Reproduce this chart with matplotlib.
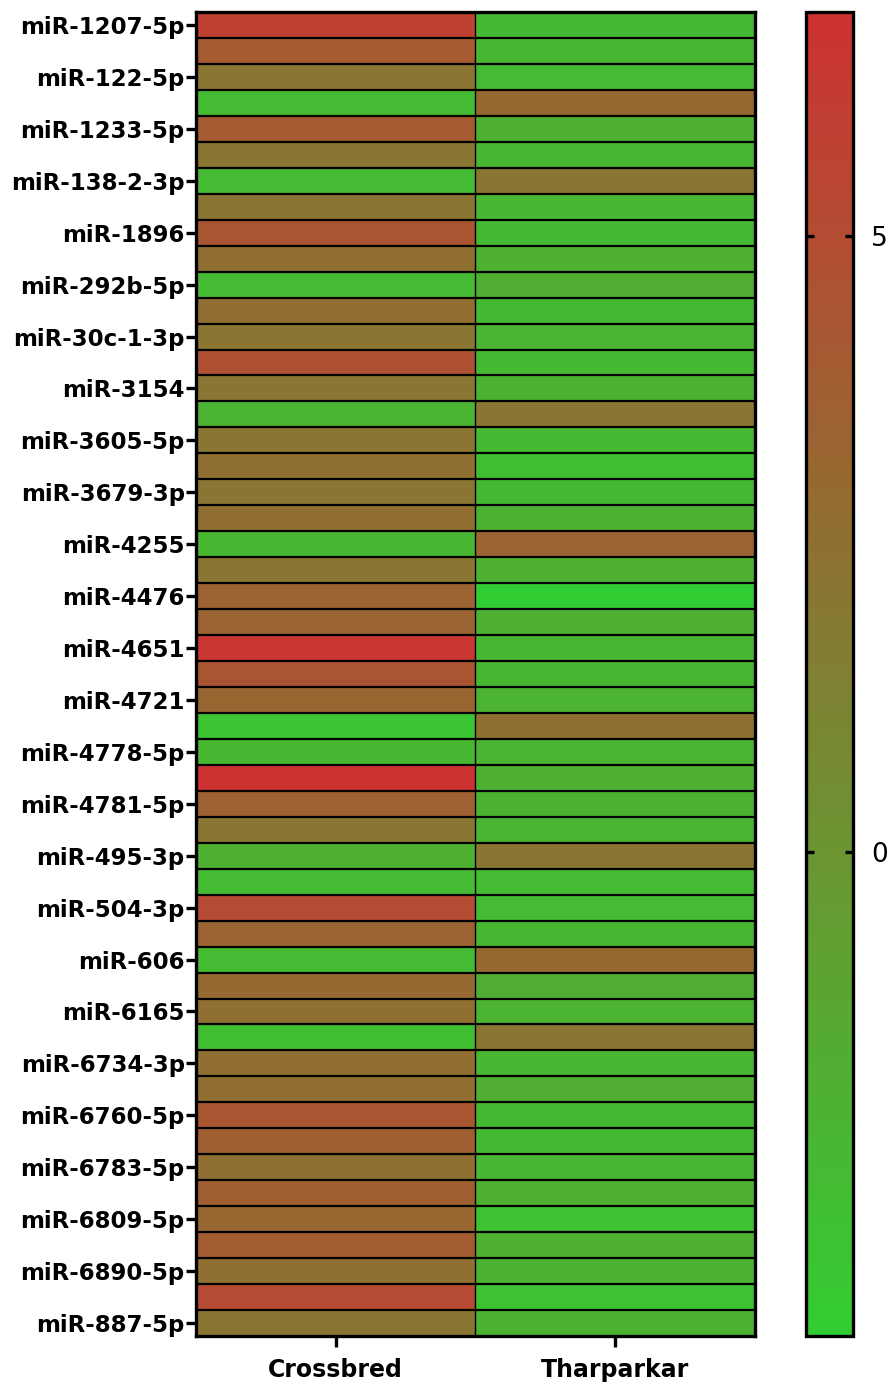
import numpy as np
import matplotlib
matplotlib.use("Agg")
import matplotlib.pyplot as plt
from matplotlib.colors import LinearSegmentedColormap

# row labels (every other row is labelled)
mirna_labels = ["miR-1207-5p", "miR-122-5p", "miR-1233-5p", "miR-138-2-3p", "miR-1896",
                "miR-292b-5p", "miR-30c-1-3p", "miR-3154", "miR-3605-5p", "miR-3679-3p",
                "miR-4255", "miR-4476", "miR-4651", "miR-4721", "miR-4778-5p",
                "miR-4781-5p", "miR-495-3p", "miR-504-3p", "miR-606", "miR-6165",
                "miR-6734-3p", "miR-6760-5p", "miR-6783-5p", "miR-6809-5p", "miR-6890-5p",
                "miR-887-5p"]
groups = ["Crossbred", "Tharparkar"]

crossbred = [5.78, 4.05, 2.17, -2.68, 4.05, 2.17, -2.68, 2.20, 4.39, 2.66,
             -2.68, 2.66, 2.17, 4.74, 2.17, -2.20, 2.17, 2.52, 2.17, 2.66,
             -2.40, 2.17, 3.35, 3.35, 6.47, 4.39, 3.21, -3.24, -2.40, 6.82,
             3.56, 2.17, -1.99, -2.68, 5.09, 3.35, -2.68, 3.00, 2.52, -2.89,
             2.66, 2.66, 4.39, 3.70, 2.52, 3.70, 3.14, 3.91, 2.52, 5.09,
             2.17]
tharparkar = [-2.54, -2.40, -2.68, 3.00, -1.99, -2.40, 2.17, -2.40, -2.54, -1.99,
              -1.85, -2.54, -2.20, -2.54, -2.13, 2.17, -2.54, -2.89, -2.54, -2.13,
              3.35, -1.99, -3.93, -1.99, -2.40, -2.40, -2.20, 2.52, -2.20, -1.99,
              -2.13, -2.27, 2.17, -2.68, -2.68, -2.40, 3.00, -1.85, -2.20, 2.17,
              -2.40, -1.85, -2.54, -2.54, -2.40, -1.99, -3.10, -1.99, -2.13, -3.10,
              -2.13]

data = np.column_stack([crossbred, tharparkar])
n_rows = data.shape[0]

cmap = LinearSegmentedColormap.from_list("gr", [(50/255, 205/255, 50/255), (205/255, 50/255, 50/255)])

fig = plt.figure(figsize=(8.9, 13.83), dpi=100)
ax = fig.add_axes([0.2202, 0.0340, 0.6281, 0.9573])
cax = fig.add_axes([0.9056, 0.0340, 0.0528, 0.9573])

mesh = ax.pcolormesh(np.arange(3), np.arange(n_rows + 1), data, cmap=cmap,
                     vmin=data.min(), vmax=data.max())
ax.set_xlim(0, 2)
ax.set_ylim(n_rows, 0)

# cell borders
ax.hlines(np.arange(1, n_rows), 0, 2, colors="black", linewidth=1.6)
ax.vlines(1, 0, n_rows, colors="black", linewidth=1.0)
for s in ax.spines.values():
    s.set_linewidth(2.4)

ax.set_yticks(np.arange(0, n_rows, 2) + 0.5)
ax.set_yticklabels(mirna_labels, fontsize=16.5, fontweight="bold", family="DejaVu Sans")
ax.set_xticks([0.5, 1.5])
ax.set_xticklabels(groups, fontsize=17, fontweight="bold", family="DejaVu Sans")
ax.tick_params(axis="y", length=7, width=2.4, pad=1)
ax.tick_params(axis="x", length=8, width=2.4, pad=8)

cb = fig.colorbar(mesh, cax=cax)
cb.set_ticks([0, 5])
cb.outline.set_linewidth(2.4)
cax.tick_params(axis="y", direction="in", length=6, width=2.4, left=True, right=True,
                labelsize=19, pad=13)

fig.savefig("out.png", dpi=100)
